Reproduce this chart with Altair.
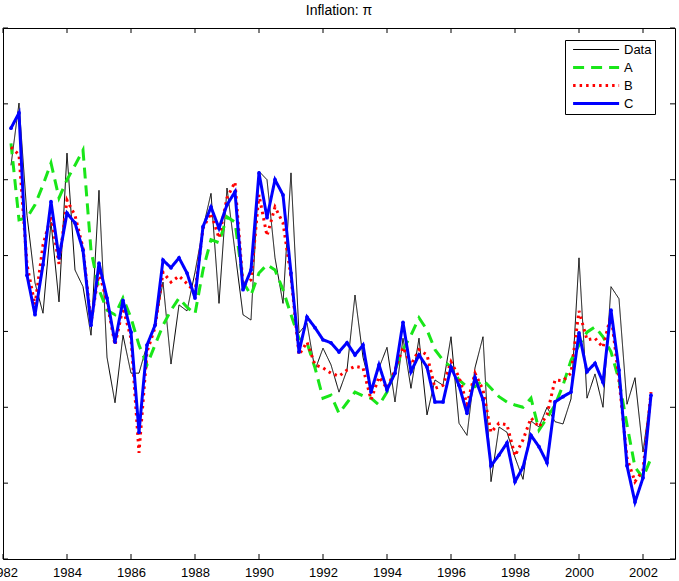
import altair as alt
import pandas as pd

# quarterly time axis (1982Q2 .. 2002Q2)
quarters = [1982.25 + 0.25 * i for i in range(81)]

series_names = ["Data", "A", "B", "C"]

data_vals = [5.19, 6.01, 4.53, 3.64, 3.24, 4.44, 3.39, 5.35, 3.81, 3.59,
             2.95, 4.86, 2.66, 2.06, 2.95, 2.45, 2.45, 2.82, 3.08, 3.65,
             2.57, 3.35, 3.27, 3.78, 4.36, 4.82, 3.37, 4.89, 4.05, 3.22,
             3.15, 5.11, 5.00, 3.97, 3.37, 5.09, 2.98, 3.11, 2.49, 2.78,
             2.56, 2.20, 2.49, 3.48, 2.66, 2.23, 2.52, 2.79, 2.07, 2.91,
             2.25, 2.91, 1.90, 2.36, 2.29, 2.93, 1.79, 1.63, 2.52, 2.93,
             1.02, 1.74, 1.67, 1.34, 1.05, 1.82, 1.74, 2.00, 1.81, 1.78,
             2.11, 3.97, 2.12, 2.44, 2.00, 3.59, 3.43, 2.04, 2.39, 1.41,
             2.19]

a_vals = [5.48, 4.47, 4.50, 4.67, 4.93, 5.22, 4.76, 5.00, 5.19, 5.39,
          4.07, 3.55, 3.28, 3.22, 3.44, 3.18, 2.82, 2.56, 2.82, 3.08,
          3.28, 3.44, 3.32, 3.23, 3.81, 4.21, 4.17, 4.51, 4.44, 3.65,
          3.48, 3.77, 3.88, 3.81, 3.55, 3.22, 2.91, 2.85, 2.52, 2.12,
          2.16, 1.92, 2.06, 2.20, 2.15, 2.12, 2.03, 2.20, 2.49, 2.76,
          2.95, 3.18, 3.02, 2.76, 2.62, 2.53, 2.36, 2.27, 2.27, 2.36,
          2.25, 2.14, 2.07, 2.03, 2.00, 2.12, 1.70, 1.86, 2.03, 2.29,
          2.62, 2.82, 2.99, 3.06, 2.93, 2.73, 2.36, 1.77, 1.21, 1.07,
          1.33]

b_vals = [5.43, 5.33, 3.88, 3.35, 4.14, 4.52, 3.89, 4.73, 4.53, 4.10,
          3.12, 3.78, 3.39, 2.82, 3.31, 2.91, 1.40, 2.73, 3.05, 3.78,
          3.65, 3.73, 3.63, 3.52, 4.36, 4.56, 4.23, 4.76, 4.97, 3.61,
          3.68, 4.80, 4.26, 4.64, 4.43, 3.72, 2.69, 2.86, 2.56, 2.52,
          2.45, 2.41, 2.49, 2.54, 2.52, 2.10, 2.40, 2.25, 2.49, 2.79,
          2.56, 2.76, 2.69, 2.25, 2.29, 2.60, 2.40, 2.04, 2.45, 2.23,
          1.67, 1.79, 1.77, 1.36, 1.57, 1.86, 1.74, 1.90, 2.36, 2.35,
          2.45, 3.27, 2.89, 2.91, 2.79, 3.22, 2.36, 1.33, 1.02, 1.17,
          2.20]

c_vals = [5.68, 5.88, 3.74, 3.22, 3.88, 4.71, 3.97, 4.56, 4.43, 4.07,
          3.08, 3.90, 3.44, 2.86, 3.41, 2.99, 1.67, 2.82, 3.08, 3.94,
          3.84, 3.97, 3.77, 3.44, 4.38, 4.64, 4.36, 4.67, 4.84, 3.55,
          3.81, 5.09, 4.50, 5.00, 4.80, 3.77, 2.73, 3.19, 3.05, 2.89,
          2.85, 2.73, 2.85, 2.69, 2.82, 2.20, 2.56, 2.23, 2.45, 3.12,
          2.47, 2.69, 2.53, 2.07, 2.07, 2.53, 2.29, 1.92, 2.39, 2.10,
          1.23, 1.37, 1.53, 1.02, 1.21, 1.63, 1.48, 1.27, 2.07, 2.14,
          2.20, 2.98, 2.47, 2.58, 2.33, 3.28, 2.49, 1.23, 0.75, 1.07,
          2.16]

x_ticks = [1982, 1984, 1986, 1988, 1990, 1992, 1994, 1996, 1998, 2000, 2002]
y_ticks = [0, 1, 2, 3, 4, 5, 6, 7]

colors = ["#000000", "#19e619", "#ff0000", "#0000ff"]
dashes = [[1, 0], [11, 7], [2.5, 4], [1, 0]]

rows = []
for name, vals in zip(series_names, [data_vals, a_vals, b_vals, c_vals]):
    for t, v in zip(quarters, vals):
        rows.append({"t": t, "v": v, "series": name})
df = pd.DataFrame(rows)

W, H = 672, 531
FONT = "Liberation Sans"

x_scale = alt.Scale(domain=[1982, 2003], nice=False, zero=False)
y_scale = alt.Scale(domain=[0, 7], nice=False, zero=False)

x_axis = alt.Axis(values=x_ticks, format="d", ticks=False, domain=False,
                  grid=False, title=None, labelFontSize=13, labelPadding=7,
                  labelFont=FONT, labelColor="black", labelFlush=False,
                  labelOverlap=False, labelBound=False)

x_enc = alt.X("t:Q", scale=x_scale, axis=x_axis)
y_enc = alt.Y("v:Q", scale=y_scale, axis=None)

# long horizontal line symbol (custom path, unit = half of sqrt(symbolSize))
LEG_SYMBOL = "M-0.15,0H4.77"


def make_legend():
    return alt.Legend(title=None, orient="none", legendX=562, legendY=12,
                      strokeColor="black", fillColor="white", padding=3,
                      labelFontSize=13, labelFont=FONT, labelColor="black",
                      symbolType=LEG_SYMBOL, symbolSize=350,
                      symbolStrokeWidth=alt.ExprRef(expr="datum.value === 'Data' ? 1.2 : 3"),
                      symbolFillColor="transparent",
                      rowPadding=4, labelOffset=43)


lines = alt.Chart(df).mark_line(clip=True).encode(
    x=x_enc,
    y=y_enc,
    color=alt.Color("series:N", scale=alt.Scale(domain=series_names, range=colors),
                    legend=make_legend()),
    strokeDash=alt.StrokeDash("series:N", scale=alt.Scale(domain=series_names, range=dashes),
                              legend=make_legend()),
    strokeWidth=alt.condition(alt.datum.series == "Data", alt.value(1), alt.value(3)),
)

c_df = df[df["series"] == "C"]
dots = alt.Chart(c_df).mark_circle(size=14, color="#0000ff", opacity=1).encode(
    x=x_enc, y=y_enc)

xt = pd.DataFrame({"t": x_ticks})
yt = pd.DataFrame({"v": y_ticks})
tick_bottom = alt.Chart(xt).mark_rule(color="black", strokeWidth=1).encode(
    x=x_enc, y=alt.value(H), y2=alt.value(H - 5))
tick_top = alt.Chart(xt).mark_rule(color="black", strokeWidth=1).encode(
    x=x_enc, y=alt.value(0), y2=alt.value(5))
tick_left = alt.Chart(yt).mark_rule(color="black", strokeWidth=1).encode(
    y=y_enc, x=alt.value(0), x2=alt.value(5))
tick_right = alt.Chart(yt).mark_rule(color="black", strokeWidth=1).encode(
    y=y_enc, x=alt.value(W), x2=alt.value(W - 5))

chart = alt.layer(lines, dots, tick_bottom, tick_top, tick_left, tick_right).properties(
    width=W, height=H,
    title=alt.TitleParams("Inflation: π", fontSize=14, fontWeight="normal", font=FONT,
                          color="black", offset=10, anchor="middle"),
    autosize=alt.AutoSizeParams(type="none"),
    padding={"left": 3, "top": 28, "right": 4, "bottom": 22},
    background="white",
).configure_view(stroke="black", strokeWidth=1)

chart.save("out.html", embed_options={"renderer": "svg", "actions": False})
